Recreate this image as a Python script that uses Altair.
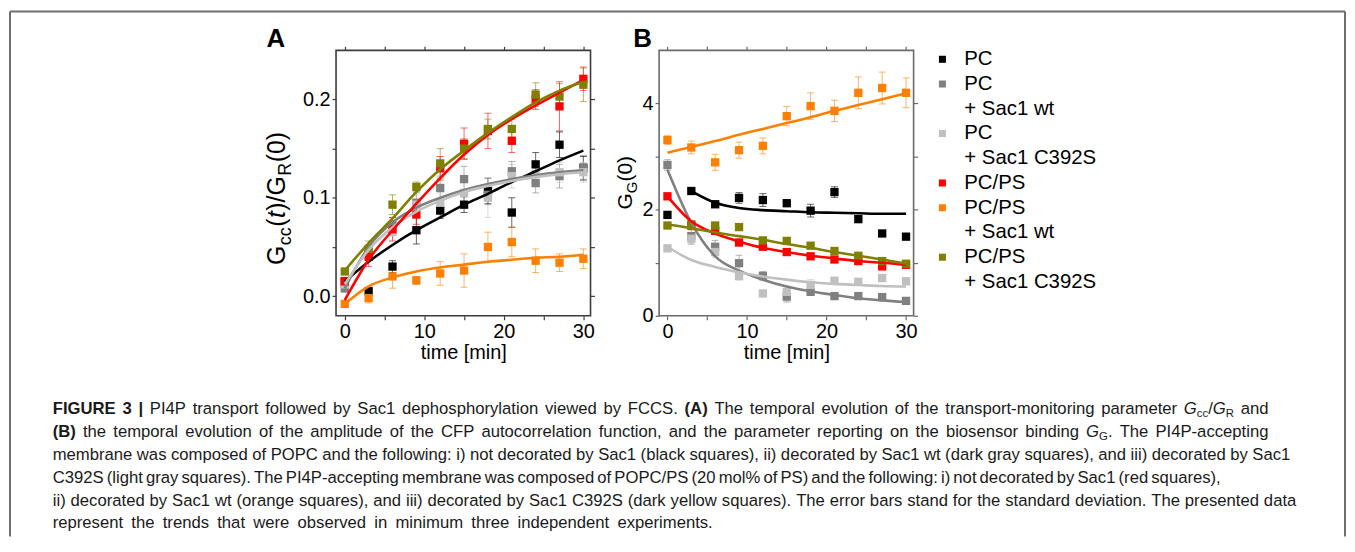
import altair as alt
import pandas as pd

FONT = "Liberation Sans"

# ---------------- data ----------------
t = [0, 3, 6, 9, 12, 15, 18, 21, 24, 27, 30]
series = ["PC", "PC + Sac1 wt", "PC + Sac1 C392S", "PC/PS", "PC/PS + Sac1 wt", "PC/PS + Sac1 C392S"]
colors = ["#000000", "#808080", "#c0c0c0", "#ff0000", "#ff8000", "#808000"]

# Panel A: Gcc(t)/GR(0)
a_pc    = [0.015, 0.005, 0.030, 0.067, 0.087, 0.093, 0.107, 0.085, 0.134, 0.154, 0.130]
a_pc_wt = [0.008, 0.045, 0.072, 0.095, 0.110, 0.119, 0.103, 0.127, 0.115, 0.122, 0.131]
a_pc_c  = [0.012, 0.045, 0.065, 0.093, 0.095, 0.105, 0.100, 0.122, 0.124, 0.126, 0.126]
a_ps    = [0.015, 0.040, 0.068, 0.083, 0.130, 0.155, 0.168, 0.158, 0.200, 0.193, 0.221]
a_ps_wt = [-0.008, -0.002, 0.020, 0.016, 0.023, 0.026, 0.050, 0.055, 0.036, 0.034, 0.038]
a_ps_c  = [0.025, 0.048, 0.093, 0.111, 0.135, 0.150, 0.170, 0.170, 0.205, 0.203, 0.215]

ea_pc    = [0.003, 0.004, 0.006, 0.014, 0.008, 0.008, 0.013, 0.015, 0.012, 0.013, 0.012]
ea_pc_wt = [0.004, 0.006, 0.008, 0.010, 0.012, 0.013, 0.010, 0.010, 0.010, 0.012, 0.012]
ea_pc_c  = [0.004, 0.006, 0.008, 0.010, 0.010, 0.012, 0.020, 0.012, 0.010, 0.010, 0.010]
ea_ps    = [0.004, 0.010, 0.012, 0.010, 0.012, 0.016, 0.018, 0.012, 0.010, 0.025, 0.012]
ea_ps_wt = [0.003, 0.005, 0.012, 0.004, 0.012, 0.017, 0.015, 0.015, 0.012, 0.009, 0.010]
ea_ps_c  = [0.003, 0.008, 0.010, 0.005, 0.015, 0.010, 0.010, 0.010, 0.012, 0.013, 0.017]

fa_pc    = [0.015, 0.035, 0.052, 0.067, 0.080, 0.093, 0.104, 0.116, 0.127, 0.138, 0.148]
fa_pc_wt = [0.008, 0.050, 0.075, 0.090, 0.100, 0.108, 0.114, 0.119, 0.123, 0.126, 0.128]
fa_pc_c  = [0.012, 0.047, 0.070, 0.086, 0.097, 0.106, 0.112, 0.117, 0.121, 0.124, 0.126]
fa_ps    = [-0.004, 0.037, 0.067, 0.094, 0.120, 0.144, 0.164, 0.180, 0.194, 0.207, 0.220]
fa_ps_wt = [-0.008, 0.010, 0.019, 0.025, 0.029, 0.032, 0.035, 0.037, 0.039, 0.040, 0.042]
fa_ps_c  = [0.026, 0.054, 0.079, 0.106, 0.129, 0.148, 0.166, 0.182, 0.197, 0.209, 0.218]

# Panel B: GG(0)
b_pc    = [1.90, 2.35, 2.10, 2.22, 2.18, 2.12, 1.98, 2.33, 1.82, 1.55, 1.49]
b_pc_wt = [2.84, 1.50, 1.30, 0.99, 0.75, 0.36, 0.45, 0.37, 0.37, 0.35, 0.28]
b_pc_c  = [1.27, 1.45, 1.20, 0.75, 0.42, 0.45, 0.58, 0.66, 0.64, 0.71, 0.65]
b_ps    = [2.25, 1.70, 1.60, 1.38, 1.30, 1.20, 1.12, 1.06, 1.03, 0.93, 0.96]
b_ps_wt = [3.31, 3.17, 2.89, 3.12, 3.20, 3.76, 3.95, 3.86, 4.20, 4.29, 4.20]
b_ps_c  = [1.70, 1.72, 1.70, 1.67, 1.42, 1.41, 1.32, 1.22, 1.13, 1.03, 0.98]

eb_pc    = [0.05, 0.06, 0.06, 0.10, 0.12, 0.06, 0.12, 0.10, 0.06, 0.05, 0.05]
eb_pc_wt = [0.10, 0.15, 0.12, 0.15, 0.08, 0.10, 0.06, 0.05, 0.05, 0.05, 0.05]
eb_pc_c  = [0.05, 0.10, 0.10, 0.08, 0.05, 0.10, 0.10, 0.06, 0.05, 0.05, 0.05]
eb_ps    = [0.05, 0.08, 0.06, 0.06, 0.05, 0.05, 0.05, 0.05, 0.05, 0.06, 0.05]
eb_ps_wt = [0.08, 0.12, 0.15, 0.15, 0.15, 0.18, 0.25, 0.20, 0.30, 0.30, 0.28]
eb_ps_c  = [0.05, 0.06, 0.05, 0.05, 0.05, 0.05, 0.05, 0.05, 0.05, 0.05, 0.05]

t_fb_pc  = [3, 6, 9, 12, 15, 18, 21, 24, 27, 30]
fb_pc    = [2.35, 2.13, 2.03, 1.99, 1.97, 1.95, 1.94, 1.93, 1.92, 1.92]
fb_pc_wt = [2.75, 1.75, 1.12, 0.85, 0.68, 0.55, 0.46, 0.39, 0.33, 0.29, 0.26]
fb_pc_c  = [1.30, 1.05, 0.92, 0.82, 0.74, 0.68, 0.63, 0.60, 0.58, 0.56, 0.55]
fb_ps    = [2.25, 1.78, 1.55, 1.40, 1.28, 1.20, 1.13, 1.08, 1.03, 1.00, 0.96]
fb_ps_wt = [3.07, 3.18, 3.29, 3.41, 3.52, 3.63, 3.74, 3.86, 3.97, 4.08, 4.19]
fb_ps_c  = [1.72, 1.65, 1.57, 1.50, 1.43, 1.35, 1.28, 1.20, 1.13, 1.06, 0.98]

legend_rows = ["PC", "PC", "+ Sac1 wt", "PC", "+ Sac1 C392S", "PC/PS", "PC/PS", "+ Sac1 wt", "PC/PS", "+ Sac1 C392S"]
legend_marks = ["#000000", "#808080", "", "#c0c0c0", "", "#ff0000", "#ff8000", "", "#808000", ""]

caption_lines = [
    [("FIGURE 3 | ", "b"), ("PI4P transport followed by Sac1 dephosphorylation viewed by FCCS. ", "n"), ("(A)", "b"),
     (" The temporal evolution of the transport-monitoring parameter ", "n"), ("G", "i"), ("cc", "s"), ("/", "n"),
     ("G", "i"), ("R", "s"), (" and", "n")],
    [("(B)", "b"), (" the temporal evolution of the amplitude of the CFP autocorrelation function, and the parameter reporting on the biosensor binding ", "n"),
     ("G", "i"), ("G", "s"), (". The PI4P-accepting", "n")],
    [("membrane was composed of POPC and the following: i) not decorated by Sac1 (black squares), ii) decorated by Sac1 wt (dark gray squares), and iii) decorated by Sac1", "n")],
    [("C392S (light gray squares). The PI4P-accepting membrane was composed of POPC/PS (20 mol% of PS) and the following: i) not decorated by Sac1 (red squares),", "n")],
    [("ii) decorated by Sac1 wt (orange squares), and iii) decorated by Sac1 C392S (dark yellow squares). The error bars stand for the standard deviation. The presented data", "n")],
    [("represent the trends that were observed in minimum three independent experiments.", "n")],
]

# ---------------- text metrics (Arial / Liberation Sans) ----------------
AR = {' ': 278, '!': 278, '%': 889, "'": 191, '(': 333, ')': 333, '+': 584, ',': 278, '-': 333, '.': 278, '/': 278,
      ':': 278, ';': 278, '[': 278, ']': 278, '|': 260,
      'A': 667, 'B': 667, 'C': 722, 'D': 722, 'E': 667, 'F': 611, 'G': 778, 'H': 722, 'I': 278, 'J': 500, 'K': 667,
      'L': 556, 'M': 833, 'N': 722, 'O': 778, 'P': 667, 'Q': 778, 'R': 722, 'S': 667, 'T': 611, 'U': 722, 'V': 667,
      'W': 944, 'X': 667, 'Y': 667, 'Z': 611,
      'a': 556, 'b': 556, 'c': 500, 'd': 556, 'e': 556, 'f': 278, 'g': 556, 'h': 556, 'i': 222, 'j': 222, 'k': 500,
      'l': 222, 'm': 833, 'n': 556, 'o': 556, 'p': 556, 'q': 556, 'r': 333, 's': 500, 't': 278, 'u': 556, 'v': 500,
      'w': 722, 'x': 500, 'y': 500, 'z': 500}
AB = {' ': 278, '(': 333, ')': 333, '|': 280, 'A': 722, 'B': 722, 'E': 667, 'F': 611, 'G': 778, 'I': 278,
      'R': 722, 'U': 722}


def tw(s, fs, bold=False):
    tot = 0
    for ch in s:
        if bold and ch in AB:
            tot += AB[ch]
        else:
            tot += AR.get(ch, 556)
    return tot * fs / 1000.0


one = pd.DataFrame({"k": [0]})

# ---------------- helpers ----------------
def long_points(vals, errs):
    rows = []
    for s, v, e in zip(series, vals, errs):
        for ti, vi, ei in zip(t, v, e):
            rows.append({"series": s, "t": ti, "v": vi, "lo": vi - ei, "hi": vi + ei})
    return pd.DataFrame(rows)


def long_fits(tlist, fits):
    rows = []
    for s, tt, f in zip(series, tlist, fits):
        for ti, fi in zip(tt, f):
            rows.append({"series": s, "t": ti, "f": fi})
    return pd.DataFrame(rows)


def rot_title(segs, xb, ystart, fs_main, fs_sub, gap):
    layers = []
    cur = ystart
    for txt, st in segs:
        fs = fs_sub if st == "s" else fs_main
        xx = xb + (0.22 * fs_main if st == "s" else 0)
        layers.append(
            alt.Chart(one).mark_text(text=txt, angle=270, align="left", baseline="alphabetic", fontSize=fs,
                                     font=FONT, fontStyle="italic" if st == "i" else "normal", color="black")
            .encode(x=alt.value(xx), y=alt.value(cur))
        )
        cur -= tw(txt, fs) + gap
    return layers


color = alt.Color("series:N", scale=alt.Scale(domain=series, range=colors), legend=None)
W, H = 256, 267


def panel(pts_df, fit_df, xdom, ydom, yvals, ylab_expr, frame, letter, letter_x, title_layers):
    xs = alt.Scale(domain=xdom, nice=False, zero=False)
    ys = alt.Scale(domain=ydom, nice=False, zero=False)
    xticks = [0, 5, 10, 15, 20, 25, 30]
    common = dict(tickSize=4, tickColor=frame, tickWidth=1.2, domain=False, grid=False, labelFont=FONT,
                  labelFontSize=20, labelColor="black", labelOverlap=False, labelFlush=False, labelBound=False)
    xb = alt.Axis(orient="bottom", values=xticks, labelExpr="datum.value % 10 == 0 ? datum.label : ''",
                  title="time [min]", titleFont=FONT, titleFontSize=20, titleFontWeight="normal",
                  titleColor="black", labelPadding=2, titlePadding=1, **common)
    xt = alt.Axis(orient="top", values=xticks, labels=False, title=None, **common)
    yl = alt.Axis(orient="left", values=yvals, labelExpr=ylab_expr, title=None, labelPadding=2, **common)
    yr = alt.Axis(orient="right", values=yvals, labels=False, title=None, **common)

    base = alt.Chart(pts_df)
    err = base.mark_rule(strokeWidth=1, opacity=0.6).encode(
        x=alt.X("t:Q", scale=xs, axis=None), y=alt.Y("lo:Q", scale=ys, axis=None), y2="hi:Q", color=color)
    cap_lo = base.mark_tick(orient="horizontal", size=7, thickness=1, opacity=0.6).encode(
        x=alt.X("t:Q", scale=xs, axis=None), y=alt.Y("lo:Q", scale=ys, axis=None), color=color)
    cap_hi = base.mark_tick(orient="horizontal", size=7, thickness=1, opacity=0.6).encode(
        x=alt.X("t:Q", scale=xs, axis=None), y=alt.Y("hi:Q", scale=ys, axis=None), color=color)
    pts = base.mark_square(size=70, opacity=1).encode(
        x=alt.X("t:Q", scale=xs, axis=xb), y=alt.Y("v:Q", scale=ys, axis=yl), color=color)
    lines = alt.Chart(fit_df).mark_line(strokeWidth=2.6, interpolate="monotone").encode(
        x=alt.X("t:Q", scale=xs, axis=xt), y=alt.Y("f:Q", scale=ys, axis=yr), color=color, order="t:Q")
    let = alt.Chart(one).mark_text(text=letter, align="left", baseline="alphabetic", fontSize=26,
                                   fontWeight="bold", font=FONT, color="black").encode(
        x=alt.value(letter_x), y=alt.value(-3))
    return alt.layer(err, cap_lo, cap_hi, pts, lines, let, *title_layers).resolve_axis(
        x="independent", y="independent").properties(
        width=W, height=H, view=alt.ViewBackground(stroke=frame, strokeWidth=1.6))


# ---------------- panel A ----------------
ptsA = long_points([a_pc, a_pc_wt, a_pc_c, a_ps, a_ps_wt, a_ps_c],
                   [ea_pc, ea_pc_wt, ea_pc_c, ea_ps, ea_ps_wt, ea_ps_c])
fitA = long_fits([t] * 6, [fa_pc, fa_pc_wt, fa_pc_c, fa_ps, fa_ps_wt, fa_ps_c])
segA = [("G", "n"), ("cc", "s"), ("(", "n"), ("t", "i"), (")/G", "n"), ("R", "s"), ("(0)", "n")]
titleA = rot_title(segA, -51, 216, 25, 18, 0.5)
chartA = panel(ptsA, fitA, [-1.1, 30.9], [-0.02, 0.25], [0, 0.05, 0.1, 0.15, 0.2],
               "round(datum.value*20) % 2 == 0 ? format(datum.value, '.1f') : ''", "#3c3c3c", "A", -70, titleA)

# ---------------- panel B ----------------
ptsB = long_points([b_pc, b_pc_wt, b_pc_c, b_ps, b_ps_wt, b_ps_c],
                   [eb_pc, eb_pc_wt, eb_pc_c, eb_ps, eb_ps_wt, eb_ps_c])
fitB = long_fits([t_fb_pc, t, t, t, t, t], [fb_pc, fb_pc_wt, fb_pc_c, fb_ps, fb_ps_wt, fb_ps_c])
segB = [("G", "n"), ("G", "s"), ("(0)", "n")]
titleB = rot_title(segB, -27, 160, 21, 15, 0)
chartB = panel(ptsB, fitB, [-1.05, 30.95], [0, 5], [0, 1, 2, 3, 4],
               "datum.value % 2 == 0 ? datum.label : ''", "#6a6a6a", "B", -26, titleB)

# ---------------- legend column ----------------
leg = pd.DataFrame({"row": list(range(len(legend_rows))), "label": legend_rows, "c": legend_marks})
ly = alt.Y("row:Q", scale=alt.Scale(domain=[-0.3616, 10.366], reverse=True, nice=False, zero=False), axis=None)
leg_sq = alt.Chart(leg).transform_filter("datum.c != ''").mark_square(size=50, opacity=1).encode(
    x=alt.value(-40), y=ly, color=alt.Color("c:N", scale=None))
leg_tx = alt.Chart(leg).mark_text(align="left", baseline="middle", fontSize=20.5, font=FONT, color="black").encode(
    x=alt.value(-18), y=ly, text="label:N")
chartL = alt.layer(leg_sq, leg_tx).properties(width=200, height=H,
                                               view=alt.ViewBackground(stroke="transparent"))

# ---------------- caption (word-positioned) + frame ----------------
CAP_X0 = -285                      # left edge of caption text, relative to panel A
line_ends = [938, 938, 960, 890, 966, 379]   # right end of each caption line, relative to panel A
cap_base = [79, 102, 125, 148, 171, 194]
fs_cap = 1244.0 / tw(caption_lines[4][0][0], 1)
rows = []
for line, yb, xe in zip(caption_lines, cap_base, line_ends):
    toks = []
    pending = False
    for txt, st in line:
        parts = txt.split(" ")
        for i, p in enumerate(parts):
            if i > 0:
                pending = True
            if p == "":
                continue
            toks.append([p, st, pending and len(toks) > 0])
            pending = False
    space_w = tw(" ", fs_cap)
    n_sp = sum(1 for tk in toks if tk[2])
    natural = sum(tw(tk[0], fs_cap * (0.68 if tk[1] == "s" else 1), tk[1] == "b") for tk in toks) + n_sp * space_w
    sp = max(1.5, space_w + ((xe - CAP_X0) - natural) / max(n_sp, 1))
    cur = CAP_X0
    for p, st, has_sp in toks:
        fs = fs_cap * 0.68 if st == "s" else fs_cap
        if has_sp:
            cur += sp
        rows.append({"txt": p, "x": cur, "y": yb + (0.2 * fs_cap if st == "s" else 0),
                     "fs": fs, "st": "n" if st == "s" else st})
        cur += tw(p, fs, st == "b")
cap = pd.DataFrame(rows)
cap_layers = []
for st, wgt, sty in [("n", "normal", "normal"), ("b", "bold", "normal"), ("i", "normal", "italic")]:
    cap_layers.append(
        alt.Chart(cap).transform_filter(f"datum.st == '{st}'").mark_text(
            align="left", baseline="alphabetic", font=FONT, fontWeight=wgt, fontStyle=sty, color="#1a1a1a").encode(
            x=alt.X("x:Q", scale=None, axis=None), y=alt.Y("y:Q", scale=None, axis=None),
            size=alt.Size("fs:Q", scale=None, legend=None), text="txt:N"))

frame_col = "#6e6e6e"
b_left = alt.Chart(one).mark_rule(color=frame_col, strokeWidth=2).encode(
    x=alt.value(-328), y=alt.value(-326), y2=alt.value(202))
b_right = alt.Chart(one).mark_rule(color=frame_col, strokeWidth=2).encode(
    x=alt.value(1015), y=alt.value(-326), y2=alt.value(202))
b_top = alt.Chart(one).mark_rule(color=frame_col, strokeWidth=2).encode(
    x=alt.value(-328), x2=alt.value(1015), y=alt.value(-326))
chartC = alt.layer(b_left, b_right, b_top, *cap_layers).properties(
    width=W, height=100, view=alt.ViewBackground(stroke="transparent"))

chart = alt.concat(chartA, chartB, chartL, chartC, columns=3, spacing={"row": 20, "column": 69},
                   bounds="flush", align="each").properties(padding=0, background="white")

chart.save("out.html", embed_options={"renderer": "svg", "actions": False})
